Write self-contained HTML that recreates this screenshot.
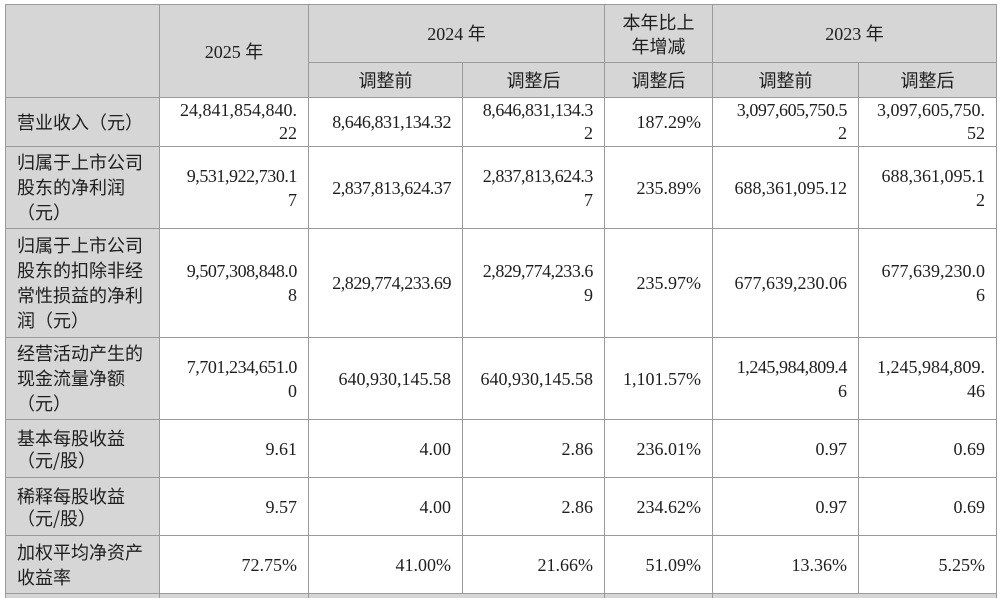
<!DOCTYPE html>
<html style="width:1000px;height:598px;overflow:hidden;"><head><meta charset="utf-8">
<style>
html,body{margin:0;padding:0;background:#fff;}
body{width:1000px;height:598px;position:relative;overflow:hidden;
font-family:"Liberation Serif","Noto Sans CJK SC",serif;font-size:18px;color:#1e1e1e;}
.c{position:absolute;box-sizing:border-box;border:1px solid #9a9a9a;display:flex;align-items:center;
line-height:24px;white-space:nowrap;}
.g{background:#d6d6d6;}
.h{justify-content:center;text-align:center;}
.l{justify-content:flex-start;text-align:left;padding-left:11px;font-family:"Noto Sans CJK SC","Liberation Sans",sans-serif;font-size:18px;line-height:25px;}
.r{justify-content:flex-end;text-align:right;padding-right:11px;}
.cj{font-family:"Noto Sans CJK SC",sans-serif;font-size:18px;}
.t{letter-spacing:-0.45px;}
</style></head><body>
<!-- header -->
<div class="c g" style="left:5px;top:4px;width:155px;height:94px;"></div>
<div class="c g h" style="left:159px;top:4px;width:150px;height:94px;"><span>2025 <span class="cj">年</span></span></div>
<div class="c g h" style="left:308px;top:4px;width:297px;height:59px;"><span>2024 <span class="cj">年</span></span></div>
<div class="c g h cj" style="left:604px;top:4px;width:109px;height:59px;line-height:24px;"><span>本年比上<br>年增减</span></div>
<div class="c g h" style="left:712px;top:4px;width:285px;height:59px;"><span>2023 <span class="cj">年</span></span></div>
<div class="c g h cj" style="left:308px;top:62px;width:155px;height:36px;">调整前</div>
<div class="c g h cj" style="left:462px;top:62px;width:143px;height:36px;">调整后</div>
<div class="c g h cj" style="left:604px;top:62px;width:109px;height:36px;">调整后</div>
<div class="c g h cj" style="left:712px;top:62px;width:147px;height:36px;">调整前</div>
<div class="c g h cj" style="left:858px;top:62px;width:139px;height:36px;">调整后</div>

<!-- row 1: 97-146 -->
<div class="c g l" style="left:5px;top:97px;width:155px;height:50px;">营业收入（元）</div>
<div class="c r" style="left:159px;top:97px;width:150px;height:50px;line-height:23px;"><span>24,841,854,840.<br>22</span></div>
<div class="c r t" style="left:308px;top:97px;width:155px;height:50px;">8,646,831,134.32</div>
<div class="c r" style="left:462px;top:97px;width:143px;height:50px;line-height:23px;"><span><span class="t">8,646,831,134.3</span><br>2</span></div>
<div class="c r" style="left:604px;top:97px;width:109px;height:50px;">187.29%</div>
<div class="c r" style="left:712px;top:97px;width:147px;height:50px;line-height:23px;"><span><span class="t">3,097,605,750.5</span><br>2</span></div>
<div class="c r" style="left:858px;top:97px;width:139px;height:50px;line-height:23px;"><span>3,097,605,750.<br>52</span></div>

<!-- row 2: 146-228 -->
<div class="c g l" style="left:5px;top:146px;width:155px;height:83px;"><span>归属于上市公司<br>股东的净利润<br>（元）</span></div>
<div class="c r" style="left:159px;top:146px;width:150px;height:83px;"><span><span class="t">9,531,922,730.1</span><br>7</span></div>
<div class="c r t" style="left:308px;top:146px;width:155px;height:83px;">2,837,813,624.37</div>
<div class="c r" style="left:462px;top:146px;width:143px;height:83px;"><span><span class="t">2,837,813,624.3</span><br>7</span></div>
<div class="c r" style="left:604px;top:146px;width:109px;height:83px;">235.89%</div>
<div class="c r" style="left:712px;top:146px;width:147px;height:83px;">688,361,095.12</div>
<div class="c r" style="left:858px;top:146px;width:139px;height:83px;"><span>688,361,095.1<br>2</span></div>

<!-- row 3: 228-337 -->
<div class="c g l" style="left:5px;top:228px;width:155px;height:110px;"><span>归属于上市公司<br>股东的扣除非经<br>常性损益的净利<br>润（元）</span></div>
<div class="c r" style="left:159px;top:228px;width:150px;height:110px;"><span><span class="t">9,507,308,848.0</span><br>8</span></div>
<div class="c r t" style="left:308px;top:228px;width:155px;height:110px;">2,829,774,233.69</div>
<div class="c r" style="left:462px;top:228px;width:143px;height:110px;"><span><span class="t">2,829,774,233.6</span><br>9</span></div>
<div class="c r" style="left:604px;top:228px;width:109px;height:110px;">235.97%</div>
<div class="c r" style="left:712px;top:228px;width:147px;height:110px;">677,639,230.06</div>
<div class="c r" style="left:858px;top:228px;width:139px;height:110px;"><span>677,639,230.0<br>6</span></div>

<!-- row 4: 337-419 -->
<div class="c g l" style="left:5px;top:337px;width:155px;height:83px;"><span>经营活动产生的<br>现金流量净额<br>（元）</span></div>
<div class="c r" style="left:159px;top:337px;width:150px;height:83px;"><span><span class="t">7,701,234,651.0</span><br>0</span></div>
<div class="c r" style="left:308px;top:337px;width:155px;height:83px;">640,930,145.58</div>
<div class="c r" style="left:462px;top:337px;width:143px;height:83px;">640,930,145.58</div>
<div class="c r" style="left:604px;top:337px;width:109px;height:83px;">1,101.57%</div>
<div class="c r" style="left:712px;top:337px;width:147px;height:83px;"><span><span class="t">1,245,984,809.4</span><br>6</span></div>
<div class="c r" style="left:858px;top:337px;width:139px;height:83px;"><span>1,245,984,809.<br>46</span></div>

<!-- row 5: 419-477 -->
<div class="c g l" style="left:5px;top:419px;width:155px;height:59px;line-height:22px;"><span>基本每股收益<br>（元/股）</span></div>
<div class="c r" style="left:159px;top:419px;width:150px;height:59px;">9.61</div>
<div class="c r" style="left:308px;top:419px;width:155px;height:59px;">4.00</div>
<div class="c r" style="left:462px;top:419px;width:143px;height:59px;">2.86</div>
<div class="c r" style="left:604px;top:419px;width:109px;height:59px;">236.01%</div>
<div class="c r" style="left:712px;top:419px;width:147px;height:59px;">0.97</div>
<div class="c r" style="left:858px;top:419px;width:139px;height:59px;">0.69</div>

<!-- row 6: 477-535 -->
<div class="c g l" style="left:5px;top:477px;width:155px;height:59px;line-height:22px;"><span>稀释每股收益<br>（元/股）</span></div>
<div class="c r" style="left:159px;top:477px;width:150px;height:59px;">9.57</div>
<div class="c r" style="left:308px;top:477px;width:155px;height:59px;">4.00</div>
<div class="c r" style="left:462px;top:477px;width:143px;height:59px;">2.86</div>
<div class="c r" style="left:604px;top:477px;width:109px;height:59px;">234.62%</div>
<div class="c r" style="left:712px;top:477px;width:147px;height:59px;">0.97</div>
<div class="c r" style="left:858px;top:477px;width:139px;height:59px;">0.69</div>

<!-- row 7: 535-593 -->
<div class="c g l" style="left:5px;top:535px;width:155px;height:59px;"><span>加权平均净资产<br>收益率</span></div>
<div class="c r" style="left:159px;top:535px;width:150px;height:59px;">72.75%</div>
<div class="c r" style="left:308px;top:535px;width:155px;height:59px;">41.00%</div>
<div class="c r" style="left:462px;top:535px;width:143px;height:59px;">21.66%</div>
<div class="c r" style="left:604px;top:535px;width:109px;height:59px;">51.09%</div>
<div class="c r" style="left:712px;top:535px;width:147px;height:59px;">13.36%</div>
<div class="c r" style="left:858px;top:535px;width:139px;height:59px;">5.25%</div>

<!-- row 8: gray strip -->
<div class="c g" style="left:5px;top:593px;width:155px;height:8px;"></div>
<div class="c g" style="left:159px;top:593px;width:150px;height:8px;"></div>
<div class="c g" style="left:308px;top:593px;width:297px;height:8px;"></div>
<div class="c g" style="left:604px;top:593px;width:109px;height:8px;"></div>
<div class="c g" style="left:712px;top:593px;width:285px;height:8px;"></div>
</body></html>
